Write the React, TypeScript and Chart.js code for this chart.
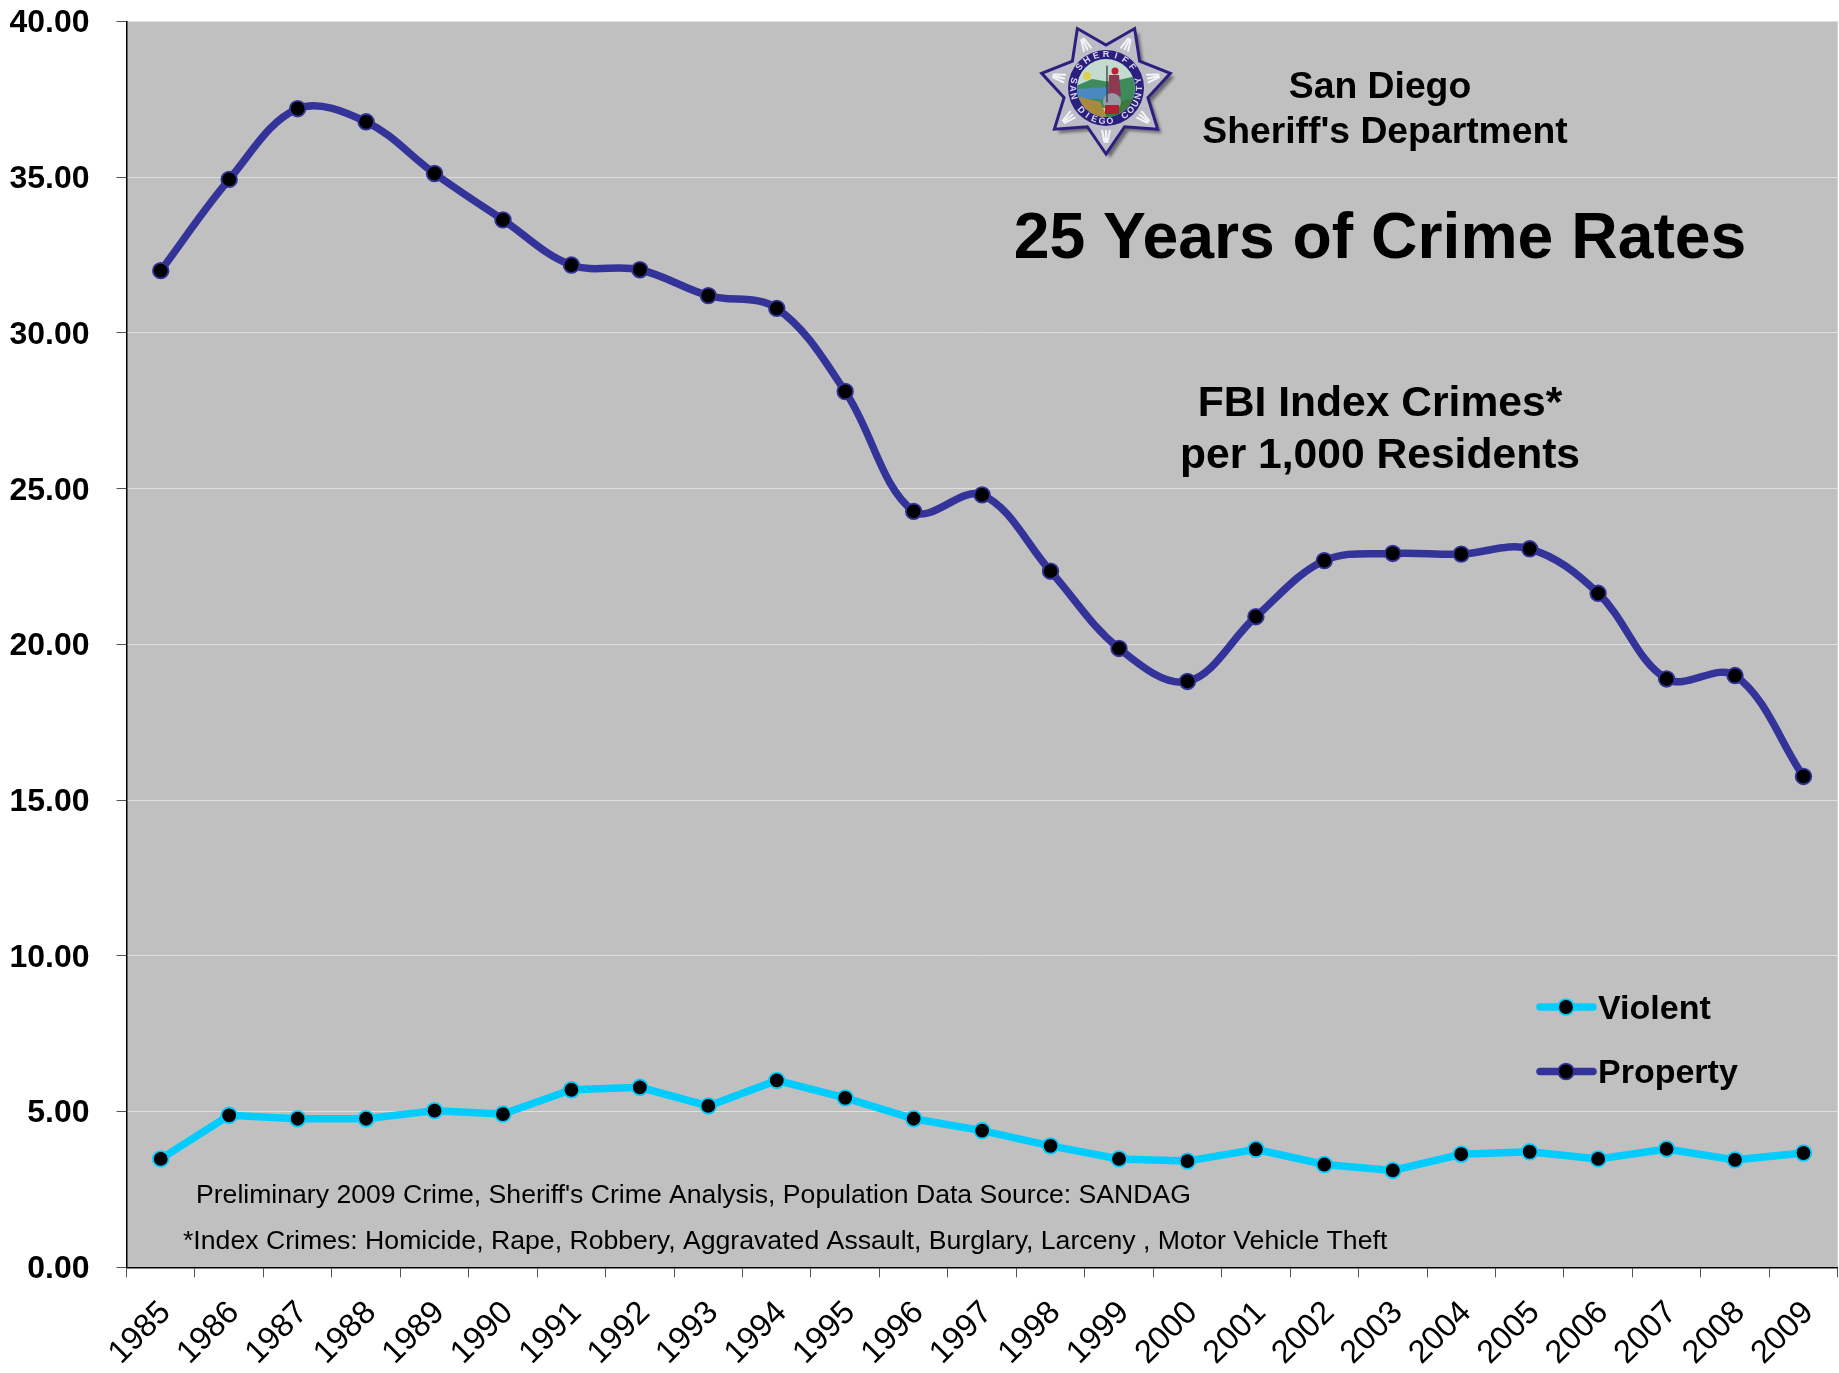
import React, { useEffect, useRef } from "react";
import { Chart, registerables } from "chart.js";

Chart.register(...registerables);

const years = ["1985","1986","1987","1988","1989","1990","1991","1992","1993","1994","1995","1996","1997","1998","1999","2000","2001","2002","2003","2004","2005","2006","2007","2008","2009"];
const violent = [3.48,4.88,4.77,4.77,5.03,4.92,5.70,5.78,5.18,6.00,5.44,4.77,4.39,3.90,3.48,3.41,3.79,3.30,3.11,3.63,3.71,3.48,3.80,3.45,3.67];
const property = [32.0,34.93,37.2,36.78,35.12,33.63,32.18,32.03,31.2,30.79,28.12,24.27,24.8,22.35,19.87,18.81,20.89,22.69,22.92,22.9,23.07,21.64,18.89,19.0,15.76];
const seriesNames = ["Violent", "Property"];
const VIOLENT_COLOR = "#00CCFF";
const PROPERTY_COLOR = "#333399";
const FONT = '"Liberation Sans", Arial, sans-serif';

const texts: [string, number, number, string, "center" | "left"][] = [
  ["San Diego", 1380, 88, "bold 37.3px", "center"],
  ["Sheriff's Department", 1385, 133, "bold 37.3px", "center"],
  ["25 Years of Crime Rates", 1380, 240.5, "bold 64.3px", "center"],
  ["FBI Index Crimes*", 1380, 404.5, "bold 42.6px", "center"],
  ["per 1,000 Residents", 1380, 456.5, "bold 42.6px", "center"],
  ["Preliminary 2009 Crime, Sheriff's Crime Analysis, Population Data Source: SANDAG", 196, 1196, "26.6px", "left"],
  ["*Index Crimes: Homicide, Rape, Robbery, Aggravated Assault, Burglary, Larceny , Motor Vehicle Theft", 183, 1241.5, "26.65px", "left"],
];

function drawBadge(ctx: CanvasRenderingContext2D, cx: number, cy: number) {
  const star = (r: number, inner: number, dx = 0, dy = 0) => {
    ctx.beginPath();
    for (let i = 0; i < 14; i++) {
      const a = Math.PI / 2 + (i * Math.PI) / 7;
      const rad = i % 2 === 0 ? r : inner;
      const x = cx + dx + rad * Math.cos(a);
      const y = cy + dy + rad * Math.sin(a);
      if (i === 0) ctx.moveTo(x, y);
      else ctx.lineTo(x, y);
    }
    ctx.closePath();
  };
  const shape = (color: string, draw: () => void) => {
    ctx.fillStyle = color;
    ctx.beginPath();
    draw();
    ctx.closePath();
    ctx.fill();
  };
  ctx.save();
  ctx.filter = "blur(1.5px)";
  star(66, 43, 4, 4);
  ctx.fillStyle = "#6a6a70";
  ctx.fill();
  ctx.filter = "none";
  star(66, 43);
  ctx.fillStyle = "#bcbcc6";
  ctx.fill();
  ctx.lineWidth = 3;
  ctx.strokeStyle = "#2b2080";
  ctx.stroke();
  ctx.strokeStyle = "#f4f4f8";
  ctx.lineWidth = 2;
  for (let i = 0; i < 7; i++) {
    const a = Math.PI / 2 + (i * 2 * Math.PI) / 7;
    for (const off of [-0.09, 0, 0.09]) {
      ctx.beginPath();
      ctx.moveTo(cx + 43 * Math.cos(a + off), cy + 43 * Math.sin(a + off));
      ctx.lineTo(cx + 54 * Math.cos(a + off * 0.3), cy + 54 * Math.sin(a + off * 0.3));
      ctx.stroke();
    }
  }
  ctx.beginPath();
  ctx.arc(cx, cy, 38, 0, Math.PI * 2);
  ctx.fillStyle = "#2b2080";
  ctx.fill();
  ctx.beginPath();
  ctx.arc(cx, cy, 29, 0, Math.PI * 2);
  ctx.fillStyle = "#c4dcd0";
  ctx.fill();
  ctx.save();
  ctx.clip();
  shape("#3f8a5a", () => { ctx.moveTo(cx - 30, cy - 2); ctx.lineTo(cx - 14, cy - 9); ctx.lineTo(cx + 4, cy - 6); ctx.lineTo(cx + 30, cy - 12); ctx.lineTo(cx + 30, cy + 20); ctx.lineTo(cx - 30, cy + 20); });
  shape("#4a88c0", () => { ctx.moveTo(cx - 30, cy + 1); ctx.lineTo(cx + 3, cy - 1); ctx.lineTo(cx + 3, cy + 11); ctx.lineTo(cx - 30, cy + 11); });
  shape("#a88a3c", () => { ctx.moveTo(cx - 30, cy + 8); ctx.lineTo(cx - 6, cy + 14); ctx.lineTo(cx + 2, cy + 30); ctx.lineTo(cx - 30, cy + 30); });
  shape("#3c7a3c", () => { ctx.moveTo(cx, cy + 16); ctx.lineTo(cx + 30, cy + 10); ctx.lineTo(cx + 30, cy + 30); ctx.lineTo(cx, cy + 30); });
  shape("#e0d050", () => { ctx.arc(cx - 19, cy - 12, 4, 0, Math.PI * 2); });
  shape("#8c3a50", () => { ctx.moveTo(cx + 3, cy - 13); ctx.lineTo(cx + 13, cy - 13); ctx.lineTo(cx + 15, cy + 8); ctx.lineTo(cx + 2, cy + 8); });
  shape("#c02030", () => { ctx.arc(cx + 9, cy - 17, 3.5, 0, Math.PI * 2); });
  shape("#9a9aa8", () => { ctx.arc(cx + 6, cy + 14, 9, 0, Math.PI * 2); });
  shape("#b02030", () => { ctx.rect(cx - 1, cy + 17, 14, 9); });
  ctx.strokeStyle = "#303040";
  ctx.lineWidth = 1.2;
  ctx.beginPath();
  ctx.moveTo(cx + 1, cy - 22);
  ctx.lineTo(cx + 1, cy + 14);
  ctx.stroke();
  ctx.restore();
  const arcText = (s: string, radius: number, mid: number, step: number, outward: boolean) => {
    ctx.font = `bold 9px ${FONT}`;
    ctx.fillStyle = "#dcdcec";
    ctx.textAlign = "center";
    ctx.textBaseline = "middle";
    [...s].forEach((ch, i) => {
      const a = mid + (i - (s.length - 1) / 2) * step * (outward ? 1 : -1);
      ctx.save();
      ctx.translate(cx + radius * Math.cos(a), cy + radius * Math.sin(a));
      ctx.rotate(outward ? a + Math.PI / 2 : a - Math.PI / 2);
      ctx.fillText(ch, 0, 0);
      ctx.restore();
    });
  };
  arcText("SHERIFF", 33.5, -Math.PI / 2, 0.3, true);
  arcText("SAN DIEGO COUNTY", 33.5, Math.PI / 2, 0.24, false);
  ctx.restore();
}

const overlay = {
  id: "overlay",
  beforeDraw(chart: any) {
    const { ctx, chartArea: a } = chart;
    ctx.save();
    ctx.fillStyle = "#C0C0C0";
    ctx.fillRect(a.left, a.top, a.right - a.left, a.bottom - a.top);
    ctx.restore();
  },
  afterDraw(chart: any) {
    const { ctx } = chart;
    ctx.save();
    ctx.fillStyle = "#000";
    ctx.textBaseline = "middle";
    texts.forEach(([s, x, y, f, al]) => {
      ctx.font = `${f} ${FONT}`;
      ctx.textAlign = al;
      ctx.fillText(s, x, y);
    });
    chart.data.datasets.forEach((d: any, i: number) => {
      const y = 1007 + i * 64.5;
      ctx.strokeStyle = d.borderColor;
      ctx.lineWidth = 7.5;
      ctx.lineCap = "round";
      ctx.beginPath();
      ctx.moveTo(1540, y);
      ctx.lineTo(1593, y);
      ctx.stroke();
      ctx.beginPath();
      ctx.arc(1566, y, 7.8, 0, Math.PI * 2);
      ctx.fillStyle = "#000";
      ctx.fill();
      ctx.lineWidth = 1.8;
      ctx.stroke();
      ctx.fillStyle = "#000";
      ctx.font = `bold 34px ${FONT}`;
      ctx.textAlign = "left";
      ctx.fillText(d.label, 1598, y + 2.5);
    });
    drawBadge(ctx, 1106, 88);
    ctx.restore();
  },
};

export default function App() {
  const ref = useRef<HTMLCanvasElement>(null);
  useEffect(() => {
    const chart = new Chart(ref.current!, {
      type: "line",
      data: {
        labels: years,
        datasets: [
          { label: seriesNames[0], data: violent, borderColor: VIOLENT_COLOR, backgroundColor: VIOLENT_COLOR, borderWidth: 7.5, tension: 0, pointRadius: 7.8, pointBorderWidth: 1.8, pointBackgroundColor: "#000", pointBorderColor: VIOLENT_COLOR },
          { label: seriesNames[1], data: property, borderColor: PROPERTY_COLOR, backgroundColor: PROPERTY_COLOR, borderWidth: 7.5, tension: 0.36, pointRadius: 7.8, pointBorderWidth: 1.8, pointBackgroundColor: "#000", pointBorderColor: PROPERTY_COLOR },
        ],
      },
      options: {
        animation: false,
        responsive: false,
        devicePixelRatio: 1,
        layout: { autoPadding: false, padding: { top: 21.5, right: 1.3, left: 0, bottom: 0 } },
        plugins: { legend: { display: false }, title: { display: false }, tooltip: { enabled: false } },
        scales: {
          x: {
            offset: true,
            afterFit: (s: any) => { s.height = 105.7; s.paddingLeft = 0; s.paddingRight = 0; s.paddingTop = 0; s.paddingBottom = 0; },
            grid: { drawOnChartArea: false, drawTicks: true, tickLength: 10, tickColor: "#555", offset: true },
            border: { color: "#000", width: 1.5 },
            ticks: { color: "#000", font: { family: FONT, size: 32.5 }, maxRotation: 45, minRotation: 45, autoSkip: false, padding: 16.5, labelOffset: 5 },
          },
          y: {
            min: 0,
            max: 40,
            afterFit: (s: any) => { s.width = 126.5; s.paddingLeft = 0; s.paddingRight = 0; s.paddingTop = 0; s.paddingBottom = 0; },
            grid: { color: "#E0E0E0", lineWidth: 1, tickLength: 10, tickColor: "#555" },
            border: { color: "#000", width: 1.5 },
            ticks: { stepSize: 5, color: "#000", font: { family: FONT, size: 32, weight: "bold" }, padding: 27, labelOffset: 2, callback: (v: any) => Number(v).toFixed(2) },
          },
        },
      },
      plugins: [overlay],
    } as any);
    return () => chart.destroy();
  }, []);
  return (
    <div style={{ position: "absolute", left: 0, top: 0, width: 1839, height: 1373, background: "#fff" }}>
      <canvas ref={ref} width={1839} height={1373} style={{ display: "block" }} />
    </div>
  );
}
